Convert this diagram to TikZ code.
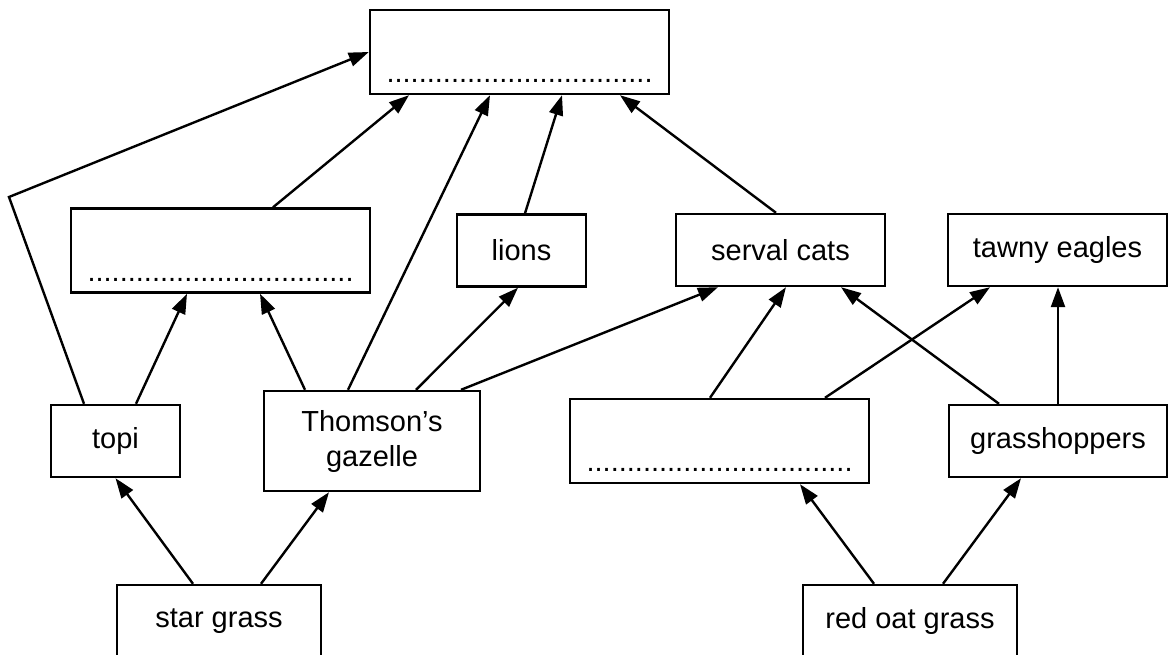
\documentclass[tikz,border=0pt]{standalone}
\usepackage{fontspec}
\setmainfont{Liberation Sans}
\usetikzlibrary{arrows.meta}
\newcommand{\answerdots}{.................................}
\tikzset{
  box/.style={draw, line width=2.4pt, minimum height=72pt, inner sep=0pt,
    align=center, font=\fontsize{29}{35}\selectfont},
  blank/.style={box, minimum width=299pt, minimum height=84pt,
    label={[anchor=base, yshift=12.5pt, inner sep=0pt, font=\fontsize{29}{35}\selectfont]south:\answerdots}},
  arr/.style={line width=2.4pt, -{Triangle[length=20pt,width=14pt]}}
}
\begin{document}
\begin{tikzpicture}[x=1pt,y=-1pt]
    \useasboundingbox (0,0) rectangle (1169,654);

    \node[blank] (topbox) at (519.5,52) {};
    \node[blank] (leftbox) at (220.5,250.5) {};
    \node[box,minimum width=129pt] (lions) at (521.5,250.5) {lions};
    \node[box,minimum width=209pt] (serval) at (780.5,250) {serval cats};
    \node[box,minimum width=219pt] (eagles) at (1057.5,250) {tawny eagles};
    \node[box,minimum width=129pt] (topi) at (115.5,441) {topi};
    \node[box,minimum width=216pt,minimum height=100pt] (gazelle) at (372,441) {Thomson’s\\gazelle};
    \node[blank] (rightbox) at (719.5,441) {};
    \node[box,minimum width=218pt] (hoppers) at (1058,441) {grasshoppers};
    \node[box,minimum width=204pt] (star) at (219,621) {star grass};
    \node[box,minimum width=214pt] (redoat) at (910,621) {red oat grass};
    \coordinate (bend) at (9,197);

    \draw [arr] ([xshift=-31.5pt]topi.north) -- (bend) -- (topbox.west);
    \draw [arr] ([xshift=52.5pt]leftbox.north) -- ([xshift=-110.5pt]topbox.south);
    \draw [arr] ([xshift=-24pt]gazelle.north) -- ([xshift=-29.5pt]topbox.south);
    \draw [arr] ([xshift=3.5pt]lions.north) -- ([xshift=42.5pt]topbox.south);
    \draw [arr] ([xshift=-4.5pt]serval.north) -- ([xshift=100.5pt]topbox.south);

    \draw [arr] ([xshift=20.5pt]topi.north) -- ([xshift=-33.5pt]leftbox.south);
    \draw [arr] ([xshift=-67pt]gazelle.north) -- ([xshift=39.5pt]leftbox.south);
    \draw [arr] ([xshift=44pt]gazelle.north) -- ([xshift=-3.5pt]lions.south);
    \draw [arr] ([xshift=89pt]gazelle.north) -- ([xshift=-62.5pt]serval.south);
    \draw [arr] ([xshift=-9.5pt]rightbox.north) -- ([xshift=5.5pt]serval.south);
    \draw [arr] ([xshift=105.5pt]rightbox.north) -- ([xshift=-67.5pt]eagles.south);
    \draw [arr] ([xshift=-59pt]hoppers.north) -- ([xshift=60.5pt]serval.south);
    \draw [arr] (hoppers.north) -- (hoppers.north |- eagles.south);

    \draw [arr] ([xshift=-26pt]star.north) -- (topi.south);
    \draw [arr] ([xshift=42pt]star.north) -- ([xshift=-43pt]gazelle.south);
    \draw [arr] ([xshift=-36pt]redoat.north) -- ([xshift=80.5pt]rightbox.south);
    \draw [arr] ([xshift=33pt]redoat.north) -- ([xshift=-37pt]hoppers.south);
\end{tikzpicture}
\end{document}
